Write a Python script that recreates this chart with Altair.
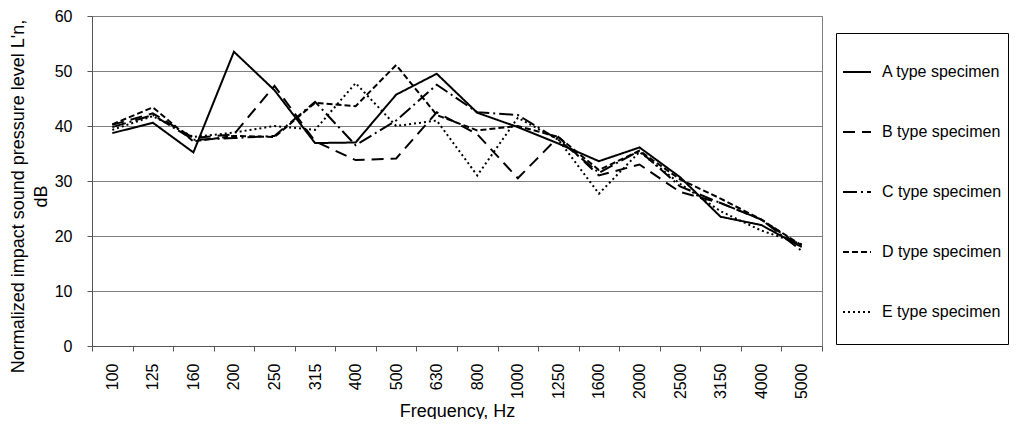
import altair as alt
import pandas as pd

freqs = ["100", "125", "160", "200", "250", "315", "400", "500", "630", "800",
         "1000", "1250", "1600", "2000", "2500", "3150", "4000", "5000"]
series_names = ["A type specimen", "B type specimen", "C type specimen",
                "D type specimen", "E type specimen"]

a_vals = [38.7, 40.6, 35.2, 53.5, 46.5, 36.9, 37.0, 45.7, 49.5, 42.4, 39.8, 36.8, 33.6, 36.1, 30.7, 23.5, 22.0, 18.0]
b_vals = [40.2, 42.3, 37.8, 38.5, 47.3, 37.2, 33.8, 34.1, 42.5, 38.5, 30.5, 38.0, 31.0, 33.0, 28.0, 26.0, 23.0, 18.0]
c_vals = [39.8, 42.0, 37.5, 37.8, 38.2, 44.4, 36.5, 41.0, 47.5, 42.5, 42.0, 37.5, 31.5, 35.5, 29.0, 26.0, 23.0, 17.3]
d_vals = [40.3, 43.4, 37.2, 38.2, 38.0, 44.2, 43.6, 51.1, 42.0, 39.2, 40.0, 38.0, 32.0, 35.5, 30.3, 26.8, 23.0, 18.3]
e_vals = [39.3, 41.8, 38.0, 38.8, 40.0, 39.3, 47.8, 40.0, 41.0, 31.0, 41.5, 37.5, 27.7, 35.3, 29.5, 24.5, 21.0, 18.5]

y_ticks = [0, 10, 20, 30, 40, 50, 60]
dash_styles = [[1, 0], [12, 7], [14, 4, 2, 4], [6, 3], [2, 3]]

rows = []
for name, vals in zip(series_names, [a_vals, b_vals, c_vals, d_vals, e_vals]):
    for f, v in zip(freqs, vals):
        rows.append({"freq": f, "level": v, "series": name})
df = pd.DataFrame(rows)

FONT = "Liberation Sans"

chart = alt.Chart(df).mark_line(color="black", strokeWidth=2).encode(
    x=alt.X(
        "freq:N", sort=freqs, bandPosition=0.5,
        scale=alt.Scale(type="band", paddingInner=0, paddingOuter=0),
        axis=alt.Axis(
            title="Frequency, Hz", labelAngle=-90, tickBand="extent",
            labelFontSize=16, labelColor="black", labelPadding=12,
            tickSize=5, tickColor="#555", domainColor="#555",
            titleFontSize=18, titleFontWeight="normal", titleColor="black",
            titleBaseline="middle", titleY=65, grid=False,
        ),
    ),
    y=alt.Y(
        "level:Q", scale=alt.Scale(domain=[0, 60]),
        axis=alt.Axis(
            values=y_ticks, title=["Normalized impact sound pressure level L'n,", "dB"],
            labelFontSize=16, labelColor="black", labelPadding=15,
            tickSize=5, tickColor="#555", domainColor="#555",
            grid=True, gridColor="#808080", gridWidth=1,
            titleFontSize=18, titleFontWeight="normal", titleColor="black",
            titleAngle=-90, titleAlign="center", titleBaseline="top",
            titleX=-83, titleY=180, titleLineHeight=23,
        ),
    ),
    strokeDash=alt.StrokeDash(
        "series:N",
        scale=alt.Scale(domain=series_names, range=dash_styles),
        legend=alt.Legend(
            title=None, orient="none", legendX=744, legendY=17,
            padding=6, strokeColor="black", fillColor="white",
            symbolType="M-1,1.29L1,1.29", symbolSize=784, symbolStrokeWidth=2,
            symbolStrokeColor="black", symbolFillColor="transparent",
            labelFontSize=16, labelColor="black",
            labelExpr="['', datum.label, '']",
            rowPadding=1, labelOffset=10, labelLimit=200,
        ),
    ),
).properties(
    width=730, height=330,
    padding={"left": 84, "top": 8, "right": 192, "bottom": 73},
    autosize=alt.AutoSizeParams(type="none"),
).configure(
    font=FONT,
).configure_view(
    stroke="#808080", strokeWidth=1,
)

chart.save("out.html", embed_options={"renderer": "svg", "actions": False})
